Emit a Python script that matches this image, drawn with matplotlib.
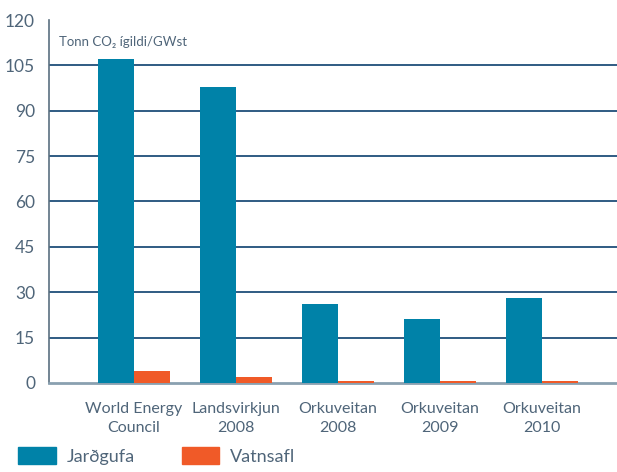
import numpy as np
import matplotlib.pyplot as plt
from matplotlib.patches import Patch

plt.rcParams['font.family'] = ['Lato', 'DejaVu Sans']

categories = ['World Energy\nCouncil', 'Landsvirkjun\n2008', 'Orkuveitan\n2008',
              'Orkuveitan\n2009', 'Orkuveitan\n2010']
jardgufa = [107, 98, 26, 21, 28]
vatnsafl = [4, 2, 0.5, 0.5, 0.5]
yticks = [0, 15, 30, 45, 60, 75, 90, 105, 120]

blue = '#0082a8'
orange = '#f05a28'
txt = '#4f6579'
navy = '#1f4e79'

fig = plt.figure(figsize=(6.17, 4.72), dpi=100)
ax = fig.add_axes([0.0794, 0.1886, 0.9206, 0.769])

x = np.arange(len(categories))
w = 0.353
ax.bar(x - w / 2, jardgufa, width=w, color=blue, zorder=5)
ax.bar(x + w / 2, vatnsafl, width=w, color=orange, zorder=5)

ax.set_xlim(-0.833, 4.735)
ax.set_ylim(0, 120)
ax.set_yticks(yticks)
ax.set_xticks(x)
ax.set_xticklabels(categories, fontsize=11.5, color=txt, linespacing=1.45)
ax.tick_params(axis='y', length=0, pad=10, labelsize=12.5, labelcolor=txt)
ax.tick_params(axis='x', length=0, pad=14)

for v in yticks[1:-1]:
    ax.axhline(v, color=navy, lw=1.3, zorder=1)

for s in ['top', 'right']:
    ax.spines[s].set_visible(False)
ax.spines['left'].set_color('#5a7080')
ax.spines['left'].set_linewidth(1.2)
ax.spines['bottom'].set_color('#8aa0b0')
ax.spines['bottom'].set_linewidth(2)
ax.spines['bottom'].set_zorder(4)

ax.text(0.018, 0.955, 'Tonn CO\u2082 ígildi/GWst', transform=ax.transAxes,
        fontsize=9.5, color=txt, va='top', ha='left')

handles = [Patch(color=blue, label='Jarðgufa'), Patch(color=orange, label='Vatnsafl')]
fig.legend(handles=handles, loc='lower left', bbox_to_anchor=(0.017, 0.0), ncol=2,
           frameon=False, fontsize=13, handlelength=2.1, handleheight=1.1,
           columnspacing=2.6, handletextpad=0.6, labelcolor=txt, borderaxespad=0)

fig.savefig('out.png', dpi=100)
